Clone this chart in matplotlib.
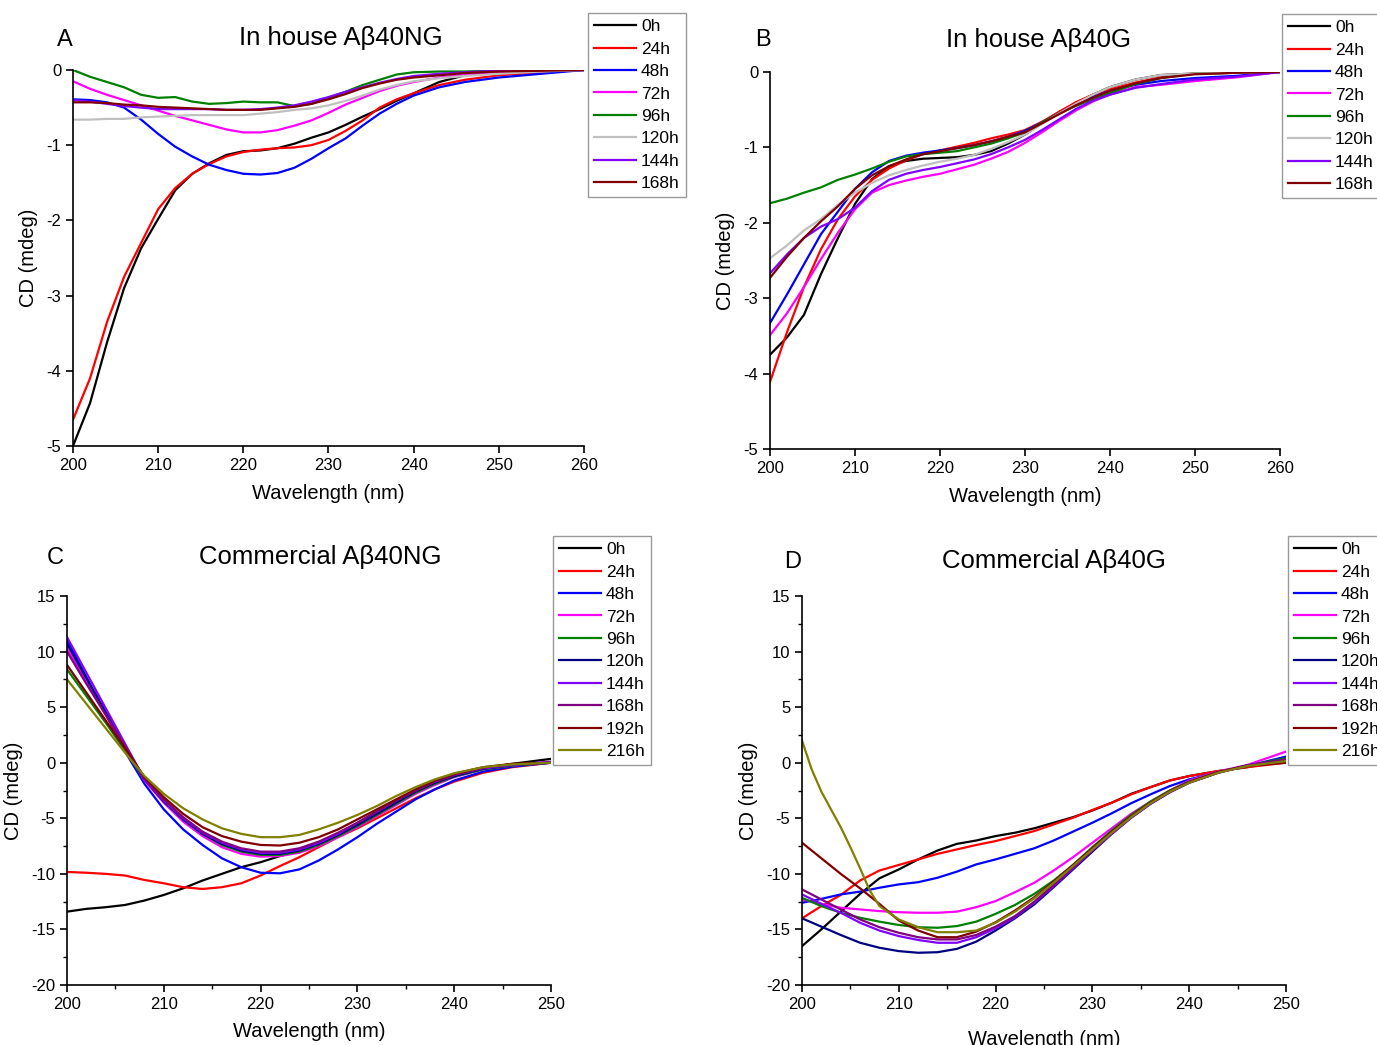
import matplotlib
matplotlib.use("Agg")
import matplotlib.pyplot as plt
from matplotlib.ticker import MultipleLocator

plt.rcParams['font.family'] = ['Liberation Sans', 'DejaVu Sans']
plt.rcParams['axes.unicode_minus'] = False

# ---- data ----
# panels A and B: in house peptide, wavelength grid 200-260 nm
wl_ab = [200, 202, 204, 206, 208, 210, 212, 214, 216, 218, 220, 222, 224,
         226, 228, 230, 232, 234, 236, 238, 240, 243, 246, 250, 255, 260]

labels_ab = ['0h', '24h', '48h', '72h', '96h', '120h', '144h', '168h']
colors_ab = ['#000000', '#ff0000', '#0000ff', '#ff00ff', '#008000',
             '#c0c0c0', '#8000ff', '#800000']

a_0h = [-5.0, -4.43, -3.62, -2.9, -2.37, -1.98, -1.6, -1.38, -1.24, -1.13, -1.08, -1.07, -1.04,
        -0.98, -0.9, -0.83, -0.73, -0.62, -0.52, -0.41, -0.31, -0.16, -0.07, -0.03, -0.01, 0]
a_24h = [-4.65, -4.1, -3.35, -2.75, -2.3, -1.85, -1.57, -1.38, -1.25, -1.15, -1.09, -1.06, -1.04,
         -1.03, -1.0, -0.93, -0.81, -0.67, -0.5, -0.39, -0.31, -0.2, -0.13, -0.07, -0.03, 0]
a_48h = [-0.39, -0.4, -0.43, -0.5, -0.66, -0.85, -1.02, -1.15, -1.26, -1.33, -1.38, -1.39, -1.37,
         -1.3, -1.18, -1.04, -0.91, -0.74, -0.58, -0.45, -0.34, -0.23, -0.16, -0.1, -0.05, 0]
a_72h = [-0.15, -0.25, -0.33, -0.4, -0.47, -0.54, -0.61, -0.67, -0.73, -0.79, -0.83, -0.83, -0.8,
         -0.74, -0.67, -0.57, -0.46, -0.37, -0.28, -0.21, -0.16, -0.1, -0.06, -0.03, -0.01, 0]
a_96h = [0.0, -0.09, -0.16, -0.23, -0.33, -0.37, -0.36, -0.42, -0.45, -0.44, -0.42, -0.43, -0.43,
         -0.48, -0.45, -0.37, -0.29, -0.2, -0.13, -0.06, -0.03, -0.02, -0.02, -0.01, -0.01, 0]
a_120h = [-0.66, -0.66, -0.65, -0.65, -0.63, -0.62, -0.61, -0.6, -0.6, -0.6, -0.6, -0.58, -0.56,
          -0.53, -0.51, -0.47, -0.41, -0.34, -0.26, -0.2, -0.15, -0.11, -0.08, -0.05, -0.02, 0]
a_144h = [-0.4, -0.42, -0.45, -0.48, -0.5, -0.52, -0.52, -0.52, -0.52, -0.53, -0.53, -0.52, -0.5,
          -0.47, -0.42, -0.36, -0.29, -0.23, -0.17, -0.12, -0.08, -0.05, -0.03, -0.01, 0, 0]
a_168h = [-0.43, -0.43, -0.44, -0.46, -0.47, -0.49, -0.5, -0.51, -0.52, -0.53, -0.53, -0.53, -0.51,
          -0.49, -0.45, -0.39, -0.32, -0.24, -0.18, -0.13, -0.1, -0.07, -0.04, -0.02, -0.01, 0]

b_0h = [-3.75, -3.52, -3.22, -2.68, -2.2, -1.75, -1.42, -1.25, -1.18, -1.15, -1.14, -1.13, -1.1,
        -1.05, -0.95, -0.83, -0.68, -0.53, -0.41, -0.3, -0.2, -0.1, -0.04, -0.02, -0.01, 0]
b_24h = [-4.11, -3.45, -2.85, -2.35, -1.95, -1.65, -1.43, -1.28, -1.17, -1.09, -1.04, -0.99, -0.94,
         -0.88, -0.83, -0.77, -0.66, -0.53, -0.4, -0.3, -0.23, -0.14, -0.07, -0.02, -0.01, 0]
b_48h = [-3.33, -2.95, -2.55, -2.15, -1.85, -1.55, -1.33, -1.18, -1.11, -1.07, -1.04, -1.01, -0.97,
         -0.92, -0.86, -0.78, -0.67, -0.55, -0.43, -0.33, -0.25, -0.17, -0.12, -0.08, -0.05, 0]
b_72h = [-3.49, -3.2, -2.85, -2.48, -2.13, -1.82, -1.6, -1.5, -1.44, -1.39, -1.35, -1.29, -1.23,
         -1.15, -1.06, -0.94, -0.8, -0.65, -0.51, -0.39, -0.3, -0.2, -0.17, -0.12, -0.07, 0]
b_96h = [-1.74, -1.68, -1.6, -1.53, -1.43, -1.36, -1.28, -1.19, -1.12, -1.09, -1.07, -1.05, -1.0,
         -0.95, -0.88, -0.8, -0.67, -0.55, -0.45, -0.36, -0.28, -0.16, -0.08, -0.02, -0.01, 0]
b_120h = [-2.47, -2.3, -2.1, -1.95, -1.76, -1.6, -1.47, -1.37, -1.3, -1.24, -1.19, -1.15, -1.1,
          -1.02, -0.93, -0.83, -0.69, -0.55, -0.42, -0.3, -0.2, -0.1, -0.04, -0.02, -0.01, 0]
b_144h = [-2.67, -2.42, -2.2, -2.05, -1.95, -1.8, -1.58, -1.43, -1.35, -1.3, -1.26, -1.21, -1.16,
          -1.09, -1.0, -0.9, -0.77, -0.63, -0.49, -0.38, -0.3, -0.21, -0.16, -0.1, -0.06, 0]
b_168h = [-2.73, -2.45, -2.2, -1.98, -1.78, -1.55, -1.37, -1.25, -1.16, -1.09, -1.05, -1.01, -0.97,
          -0.92, -0.86, -0.8, -0.68, -0.56, -0.44, -0.34, -0.25, -0.15, -0.08, -0.03, -0.01, 0]

# panels C and D: commercial peptide, wavelength grid 200-250 nm
wl_cd = [200, 202, 204, 206, 208, 210, 212, 214, 216, 218, 220, 222, 224,
         226, 228, 230, 232, 234, 236, 238, 240, 243, 246, 250]
wl_d_216 = [200, 201, 202, 203, 204, 205, 206, 207, 208, 210, 212, 214, 216, 218, 220, 222, 224,
            226, 228, 230, 232, 234, 236, 238, 240, 243, 246, 250]

labels_cd = ['0h', '24h', '48h', '72h', '96h', '120h', '144h', '168h', '192h', '216h']
colors_cd = ['#000000', '#ff0000', '#0000ff', '#ff00ff', '#008000',
             '#000080', '#8000ff', '#800080', '#800000', '#808000']

c_0h = [-13.4, -13.15, -13.0, -12.8, -12.4, -11.9, -11.3, -10.6, -10.0, -9.4, -8.95, -8.4, -7.9,
        -7.2, -6.4, -5.5, -4.5, -3.5, -2.6, -1.8, -1.15, -0.5, -0.1, 0.35]
c_24h = [-9.83, -9.9, -10.0, -10.15, -10.55, -10.85, -11.2, -11.36, -11.2, -10.85, -10.15, -9.3, -8.5,
         -7.6, -6.7, -5.9, -5.0, -4.1, -3.2, -2.4, -1.7, -0.9, -0.4, 0]
c_48h = [11.1, 7.7, 4.4, 1.0, -1.9, -4.2, -6.0, -7.4, -8.6, -9.4, -9.9, -9.95, -9.6,
         -8.8, -7.8, -6.7, -5.5, -4.4, -3.3, -2.4, -1.6, -0.8, -0.35, 0]
c_72h = [10.3, 7.3, 4.3, 1.3, -1.6, -3.6, -5.3, -6.6, -7.6, -8.2, -8.45, -8.4, -8.1,
         -7.5, -6.7, -5.8, -4.8, -3.8, -2.8, -2.0, -1.3, -0.6, -0.25, 0]
c_96h = [8.4, 6.0, 3.6, 1.1, -1.5, -3.4, -5.1, -6.4, -7.4, -8.0, -8.3, -8.3, -8.0,
         -7.4, -6.6, -5.7, -4.7, -3.7, -2.7, -1.9, -1.25, -0.6, -0.25, 0]
c_120h = [10.7, 7.6, 4.6, 1.5, -1.5, -3.5, -5.1, -6.4, -7.3, -7.9, -8.2, -8.2, -7.9,
          -7.3, -6.5, -5.6, -4.6, -3.6, -2.6, -1.8, -1.2, -0.55, -0.2, 0]
c_144h = [11.3, 8.1, 4.9, 1.7, -1.5, -3.4, -5.0, -6.3, -7.2, -7.8, -8.1, -8.1, -7.8,
          -7.2, -6.4, -5.4, -4.4, -3.4, -2.5, -1.7, -1.1, -0.5, -0.2, 0.1]
c_168h = [10.0, 7.1, 4.3, 1.5, -1.4, -3.3, -4.9, -6.2, -7.1, -7.7, -8.0, -8.0, -7.7,
          -7.1, -6.3, -5.4, -4.4, -3.4, -2.5, -1.7, -1.1, -0.45, -0.15, 0]
c_192h = [8.8, 6.3, 3.8, 1.3, -1.3, -3.1, -4.6, -5.8, -6.6, -7.1, -7.4, -7.45, -7.2,
          -6.7, -6.0, -5.1, -4.2, -3.3, -2.4, -1.6, -1.0, -0.4, -0.1, 0]
c_216h = [7.5, 5.3, 3.1, 0.9, -1.2, -2.8, -4.1, -5.1, -5.9, -6.4, -6.7, -6.7, -6.5,
          -6.0, -5.4, -4.7, -3.9, -3.0, -2.2, -1.5, -0.95, -0.4, -0.15, 0]

d_0h = [-16.5, -15.0, -13.4, -11.8, -10.4, -9.6, -8.7, -7.9, -7.3, -7.0, -6.6, -6.3, -5.9,
        -5.4, -4.9, -4.3, -3.6, -2.8, -2.2, -1.6, -1.2, -0.75, -0.4, 0.25]
d_24h = [-14.0, -12.9, -11.9, -10.6, -9.7, -9.2, -8.7, -8.2, -7.8, -7.4, -7.05, -6.6, -6.15,
         -5.55, -4.95, -4.25, -3.6, -2.85, -2.2, -1.6, -1.2, -0.75, -0.4, 0]
d_48h = [-12.6, -12.25, -11.85, -11.6, -11.25, -10.95, -10.75, -10.35, -9.8, -9.15, -8.7, -8.2, -7.7,
         -7.0, -6.2, -5.4, -4.55, -3.65, -2.85, -2.1, -1.5, -0.85, -0.3, 0.55]
d_72h = [-12.3, -12.7, -13.05, -13.2, -13.35, -13.45, -13.5, -13.5, -13.4, -13.0, -12.45, -11.65, -10.8,
         -9.7, -8.5, -7.2, -5.9, -4.6, -3.5, -2.5, -1.6, -0.8, -0.2, 1.0]
d_96h = [-12.16, -12.9, -13.5, -13.95, -14.3, -14.6, -14.8, -14.85, -14.7, -14.3, -13.6, -12.8, -11.8,
         -10.6, -9.2, -7.6, -6.1, -4.7, -3.5, -2.5, -1.7, -0.85, -0.25, 0.4]
d_120h = [-14.0, -14.75, -15.5, -16.2, -16.65, -16.95, -17.1, -17.05, -16.75, -16.1, -15.1, -14.0, -12.75,
          -11.2, -9.6, -8.0, -6.4, -4.95, -3.7, -2.65, -1.8, -0.9, -0.25, 0.25]
d_144h = [-11.85, -12.7, -13.5, -14.4, -15.1, -15.6, -15.95, -16.2, -16.2, -15.7, -14.9, -13.9, -12.6,
          -11.1, -9.5, -7.9, -6.4, -4.95, -3.7, -2.65, -1.8, -0.9, -0.25, 0.25]
d_168h = [-11.4, -12.3, -13.2, -14.1, -14.8, -15.3, -15.7, -15.9, -15.9, -15.5, -14.75, -13.8, -12.5,
          -11.0, -9.4, -7.85, -6.3, -4.9, -3.65, -2.6, -1.75, -0.85, -0.25, 0.3]
d_192h = [-7.2, -8.6, -10.0, -11.3, -12.7, -14.2, -15.1, -15.7, -15.7, -15.2, -14.35, -13.3, -12.1,
          -10.7, -9.2, -7.7, -6.2, -4.8, -3.6, -2.55, -1.75, -0.85, -0.3, 0]
d_216h = [2.0, -0.6, -2.6, -4.2, -5.8, -7.6, -9.5, -11.5, -12.9, -14.1, -14.8, -15.25, -15.25, -15.1,
          -14.4, -13.4, -12.2, -10.8, -9.3, -7.8, -6.3, -4.9, -3.65, -2.6, -1.8, -0.9, -0.3, 0.15]

W, H = 1377, 1045
fig = plt.figure(figsize=(W / 100, H / 100), dpi=100)


def px_axes(x0, x1, ytop, ybot):
    return fig.add_axes([x0 / W, 1 - ybot / H, (x1 - x0) / W, (ybot - ytop) / H])


def style(ax, xlim, ylim, xmaj, ymaj, xmin=None, ymin=None, xpad=8):
    ax.set_xlim(*xlim)
    ax.set_ylim(*ylim)
    ax.xaxis.set_major_locator(MultipleLocator(xmaj))
    ax.yaxis.set_major_locator(MultipleLocator(ymaj))
    if xmin:
        ax.xaxis.set_minor_locator(MultipleLocator(xmin))
    if ymin:
        ax.yaxis.set_minor_locator(MultipleLocator(ymin))
    ax.spines["right"].set_visible(False)
    ax.spines["top"].set_visible(False)
    for s in ("left", "bottom"):
        ax.spines[s].set_linewidth(1.2)
    ax.tick_params(which='major', direction='out', length=5, width=1.2, labelsize=12)
    ax.tick_params(which='minor', direction='out', length=3, width=1.0)
    ax.set_xlabel("Wavelength (nm)", fontsize=14.5, labelpad=xpad)
    ax.set_ylabel("CD (mdeg)", fontsize=14.5, labelpad=6)


def add_legend(ax, x_px, y_px):
    leg = ax.legend(loc='upper left', bbox_to_anchor=(x_px / W, 1 - y_px / H),
                    bbox_transform=fig.transFigure, fontsize=12.5, frameon=True,
                    fancybox=False, borderaxespad=0, handlelength=2.4,
                    handletextpad=0.3, labelspacing=0.42, borderpad=0.35)
    leg.get_frame().set_edgecolor('#808080')
    leg.get_frame().set_linewidth(1.0)


# Panel A
axA = px_axes(73, 584, 70, 446)
for lab, col, vals in zip(labels_ab, colors_ab,
                          [a_0h, a_24h, a_48h, a_72h, a_96h, a_120h, a_144h, a_168h]):
    axA.plot(wl_ab, vals, color=col, lw=1.6, label=lab)
style(axA, (200, 260), (-5, 0), 10, 1)
add_legend(axA, 588, 13)

# Panel B
axB = px_axes(770, 1280, 72, 449)
for lab, col, vals in zip(labels_ab, colors_ab,
                          [b_0h, b_24h, b_48h, b_72h, b_96h, b_120h, b_144h, b_168h]):
    axB.plot(wl_ab, vals, color=col, lw=1.6, label=lab)
style(axB, (200, 260), (-5, 0), 10, 1)
add_legend(axB, 1282, 14)

# Panel C
axC = px_axes(67, 551, 596, 985)
for lab, col, vals in zip(labels_cd, colors_cd,
                          [c_0h, c_24h, c_48h, c_72h, c_96h, c_120h, c_144h, c_168h, c_192h, c_216h]):
    axC.plot(wl_cd, vals, color=col, lw=1.6, label=lab)
style(axC, (200, 250), (-20, 15), 10, 5, 5, 2.5, xpad=7)
add_legend(axC, 553, 536)

# Panel D
axD = px_axes(802, 1286, 596, 985)
for lab, col, vals in zip(labels_cd, colors_cd,
                          [d_0h, d_24h, d_48h, d_72h, d_96h, d_120h, d_144h, d_168h, d_192h]):
    axD.plot(wl_cd, vals, color=col, lw=1.6, label=lab)
axD.plot(wl_d_216, d_216h, color=colors_cd[-1], lw=1.6, label=labels_cd[-1])
style(axD, (200, 250), (-20, 15), 10, 5, 5, 2.5, xpad=13)
add_legend(axD, 1288, 536)

# titles and panel letters
for letter, lx, ly, title, tx, ty in [
        ("A", 65, 40, "In house A\u03b240NG", 341, 38),
        ("B", 763, 40, "In house A\u03b240G", 1038, 40),
        ("C", 55, 558, "Commercial A\u03b240NG", 320, 557),
        ("D", 793, 562, "Commercial A\u03b240G", 1054, 561)]:
    fig.text(lx / W, 1 - ly / H, letter, fontsize=17, ha='center', va='center')
    fig.text(tx / W, 1 - ty / H, title, fontsize=18.5, ha='center', va='center')

fig.savefig("out.png", dpi=100)
